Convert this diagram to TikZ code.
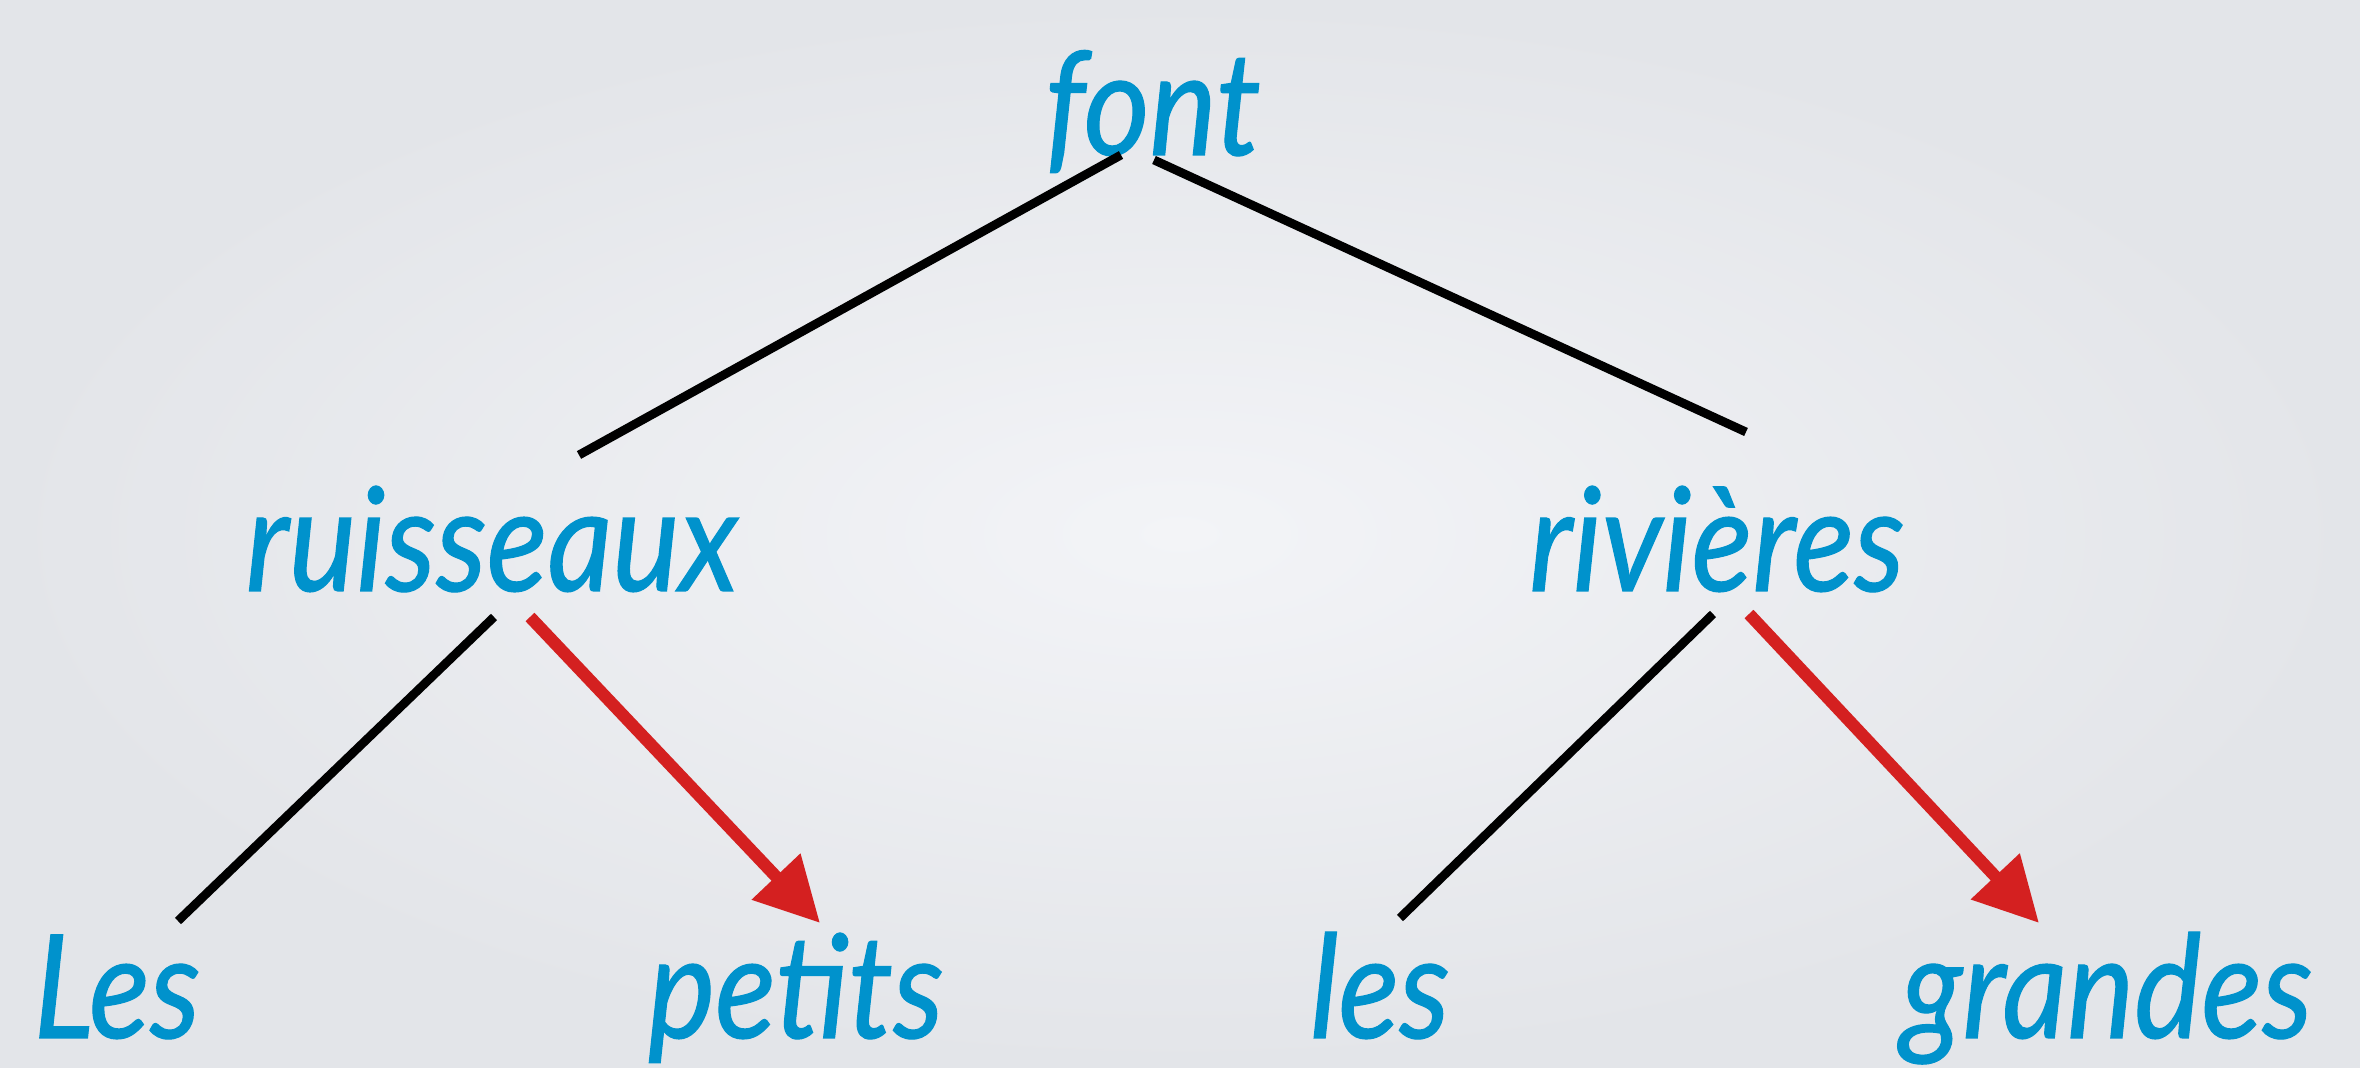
\documentclass[tikz,border=0pt]{standalone}
\usepackage{fontspec}
\setsansfont{Lato}[FakeStretch=0.88,FakeBold=0.8]
\usetikzlibrary{arrows.meta}
\definecolor{wordblue}{HTML}{0092CC}
\definecolor{arrowred}{HTML}{D42020}
\definecolor{bginner}{HTML}{F3F4F7}
\definecolor{bgouter}{HTML}{E3E5E9}

\begin{document}
\begin{tikzpicture}[
  word/.style={font=\sffamily\itshape\fontsize{41}{47}\selectfont,
    text=wordblue,anchor=base,inner sep=0pt},
  branch/.style={draw=black,line width=2.5pt},
  headarrow/.style={draw=arrowred,line width=3.5pt,
    -{Triangle[length=6.4mm,width=6.4mm]}}]
  \shade[inner color=bginner,outer color=bgouter] (0,0) rectangle (23.6,10.68);
  \useasboundingbox (0,0) rectangle (23.6,10.68);
  % words
  \node[word] (font)      at (11.53,9.13) {font};
  \node[word] (ruisseaux) at (4.92,4.77)  {ruisseaux};
  \node[word] (rivieres)  at (17.17,4.77) {rivières};
  \node[word] (Les)       at (1.17,0.30)  {Les};
  \node[word] (petits)    at (7.96,0.30)  {petits};
  \node[word] (les)       at (13.80,0.30) {les};
  \node[word] (grandes)   at (21.07,0.30) {grandes};
  % branches
  \draw[branch] ([xshift=-3.2mm]font.base) -- ([xshift=8.7mm,yshift=13.6mm]ruisseaux.base);
  \draw[branch] ([xshift=0.1mm,yshift=-0.5mm]font.base) -- ([xshift=2.9mm,yshift=15.9mm]rivieres.base);
  \draw[branch] ([xshift=0.2mm,yshift=-2.6mm]ruisseaux.base) -- ([xshift=6.1mm,yshift=11.7mm]Les.base);
  \draw[branch] ([xshift=-0.4mm,yshift=-2.3mm]rivieres.base) -- ([xshift=2mm,yshift=12mm]les.base);
  \draw[headarrow] ([xshift=3.8mm,yshift=-2.6mm]ruisseaux.base) -- ([xshift=2.4mm,yshift=11.5mm]petits.base);
  \draw[headarrow] ([xshift=3.2mm,yshift=-2.3mm]rivieres.base) -- ([xshift=-6.8mm,yshift=11.5mm]grandes.base);
\end{tikzpicture}
\end{document}
